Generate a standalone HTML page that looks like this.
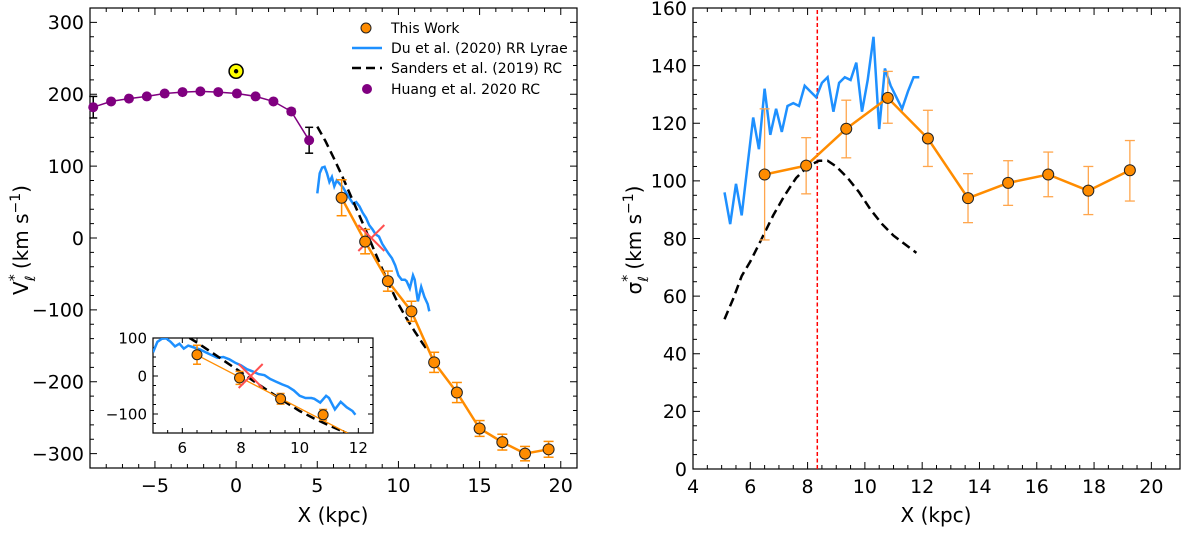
<!DOCTYPE html>
<html><head><meta charset="utf-8"><style>
html,body{margin:0;padding:0;background:#fff}
svg{display:block;font-family:"DejaVu Sans","Liberation Sans",sans-serif}
</style></head><body>
<svg id="fig" width="1200" height="534" viewBox="0 0 1200 534" xmlns="http://www.w3.org/2000/svg"></svg>
<script>
// ---- data: left panel (V_l*) ----
const huangX = [-8.8,-7.7,-6.6,-5.5,-4.4,-3.3,-2.2,-1.1,0.05,1.2,2.3,3.4,4.5];
const huangV = [182,190,194,197,201,203,204,203,201,197,190,176,136];
const huangErr = [15,0,0,0,0,0,0,0,0,0,0,4,18];
const workX = [6.5,7.95,9.35,10.8,12.2,13.6,15.0,16.4,17.8,19.25];
const workV = [56,-5,-60,-102,-173,-215,-265,-284,-300,-294];
const workVErr = [25,17,14,14,14,14,11,11,10,11];
const duX = [5.0,5.15,5.3,5.45,5.6,5.75,5.9,6.05,6.2,6.4,6.6,6.8,7.0,7.2,7.4,7.6,7.8,8.0,8.2,8.4,8.6,8.8,9.0,9.2,9.4,9.6,9.8,10.0,10.2,10.4,10.5,10.7,10.9,11.0,11.2,11.4,11.6,11.8,11.9];
const duV = [62,90,98,99,90,78,85,72,80,75,70,62,55,48,50,44,35,28,18,12,5,2,-8,-15,-22,-28,-38,-52,-58,-58,-60,-70,-52,-58,-88,-68,-82,-92,-102];
const sandX = [5.0,5.5,6.0,6.5,7.0,7.5,8.0,8.5,9.0,9.5,10.0,10.5,11.0,11.5,11.85];
const sandV = [155,135,112,88,62,36,10,-17,-43,-68,-92,-112,-130,-147,-158];
const sunX = [0]; const sunV = [232];
const fitX = [6.5,11.75]; const fitV = [55,-155];
// ---- data: right panel (sigma_l*) ----
const workS = [102.2,105.3,118.1,128.8,114.7,94.0,99.3,102.2,96.6,103.7];
const workSLo = [79.5,95.5,108,120,105,85.5,91.5,94.5,88.3,93];
const workSHi = [125,115,128,138,124.5,102.5,107,110,105,114];
const duSX = [5.1,5.3,5.5,5.7,5.9,6.1,6.3,6.5,6.7,6.9,7.1,7.3,7.5,7.7,7.9,8.1,8.3,8.5,8.7,8.9,9.1,9.3,9.5,9.7,9.9,10.1,10.3,10.5,10.7,10.9,11.1,11.3,11.5,11.7,11.9];
const duS = [96,85,99,88,105,122,111,132,116,125,117,126,127,126,133,131,129,134,136,124,134,136,135,141,124,135,150,118,139,133,129,125,131,136,136];
const sandSX = [5.1,5.4,5.7,6.0,6.4,6.8,7.2,7.6,8.0,8.4,8.7,9.0,9.4,9.8,10.2,10.6,11.0,11.4,11.8];
const sandS = [52,59,67,72,80,88,95,101,105,107,107,105,101,96,90,85,81,78,75];
const sunLineX = [8.34];

const NS="http://www.w3.org/2000/svg";
const svg=document.getElementById('fig');
function el(tag,attrs,parent){const e=document.createElementNS(NS,tag);for(const k in attrs)e.setAttribute(k,attrs[k]);(parent||svg).appendChild(e);return e;}
function axis(x0,x1,y0,y1,xmin,xmax,ymin,ymax){return {sx:v=>x0+(v-xmin)/(xmax-xmin)*(x1-x0),sy:v=>y1-(v-ymin)/(ymax-ymin)*(y1-y0),x0,x1,y0,y1,xmin,xmax,ymin,ymax};}
function frame(a,name,xmaj,xmin_,ymaj,ymin_,fs,maj,mn,fmt){
  const g=el('g',{});
  
  
  el('rect',{x:a.x0,y:a.y0,width:a.x1-a.x0,height:a.y1-a.y0,fill:'none',stroke:'#000','stroke-width':1.2},g);
  const eps=1e-6;
  for(let v=Math.ceil(a.xmin/xmin_-eps)*xmin_;v<=a.xmax+eps;v+=xmin_){
    const isM=Math.abs(v/xmaj-Math.round(v/xmaj))<1e-6;const L=isM?maj:mn;const x=a.sx(v);
    el('line',{x1:x,x2:x,y1:a.y1,y2:a.y1-L,stroke:'#000','stroke-width':1},g);
    el('line',{x1:x,x2:x,y1:a.y0,y2:a.y0+L,stroke:'#000','stroke-width':1},g);
    if(isM){const t=el('text',{x:x,y:a.y1+fs+5,'font-size':fs,'text-anchor':'middle',fill:'#000'},g);t.textContent=fmt(Math.round(v));
      
      }
  }
  for(let v=Math.ceil(a.ymin/ymin_-eps)*ymin_;v<=a.ymax+eps;v+=ymin_){
    const isM=Math.abs(v/ymaj-Math.round(v/ymaj))<1e-6;const L=isM?maj:mn;const y=a.sy(v);
    el('line',{x1:a.x0,x2:a.x0+L,y1:y,y2:y,stroke:'#000','stroke-width':1},g);
    el('line',{x1:a.x1,x2:a.x1-L,y1:y,y2:y,stroke:'#000','stroke-width':1},g);
    if(isM){const t=el('text',{x:a.x0-6,y:y+fs*0.36,'font-size':fs,'text-anchor':'end',fill:'#000'},g);t.textContent=fmt(Math.round(v));
      
      }
  }
}
const fmt=v=>v<0?'\u2212'+(-v):''+v;
function poly(a,xs,ys,attrs,name){const p=xs.map((x,i)=>a.sx(x).toFixed(1)+','+a.sy(ys[i]).toFixed(1)).join(' ');const e=el('polyline',Object.assign({points:p,fill:'none'},attrs));
  
  return e;}
function errs(a,xs,lo,hi,color,w,cap,name){xs.forEach((x,i)=>{if(hi[i]===lo[i])return;const X=a.sx(x),Y1=a.sy(lo[i]),Y2=a.sy(hi[i]);
  const g=el('g',{stroke:color,'stroke-width':w});
  
  
  el('line',{x1:X,x2:X,y1:Y1,y2:Y2},g);el('line',{x1:X-cap,x2:X+cap,y1:Y1,y2:Y1},g);el('line',{x1:X-cap,x2:X+cap,y1:Y2,y2:Y2},g);});}
function dots(a,xs,ys,r,fill,stroke,name){xs.forEach((x,i)=>{const c=el('circle',{cx:a.sx(x),cy:a.sy(ys[i]),r:r,fill:fill,stroke:stroke,'stroke-width':stroke=='none'?0:1});
  
  });}
function cross(a,x,y,s,name){const X=a.sx(x),Y=a.sy(y);const g=el('g',{stroke:'#ff5050','stroke-width':2});
  
  
  el('line',{x1:X-s,y1:Y-s,x2:X+s,y2:Y+s},g);el('line',{x1:X-s,y1:Y+s,x2:X+s,y2:Y-s},g);}
const OR='#ff8c00', BL='#1e90ff', PU='#800080';

// ===== LEFT PANEL =====
const A=axis(90,577,8,468,-9,21,-320,320);
frame(A,'left',5,1,100,20,19,7,4,fmt);
const lo1=huangV.map((v,i)=>v-huangErr[i]), hi1=huangV.map((v,i)=>v+huangErr[i]);
errs(A,huangX,lo1,hi1,'#000',1.5,4,'huang-error-bar');
poly(A,huangX,huangV,{stroke:PU,'stroke-width':1.5},'huang-line');
dots(A,huangX,huangV,5,PU,'none','huang-point');
const sg=el('g',{});


el('circle',{cx:A.sx(sunX[0]),cy:A.sy(sunV[0]),r:7,fill:'#ffff00',stroke:'#000','stroke-width':1.5},sg);
el('circle',{cx:A.sx(sunX[0]),cy:A.sy(sunV[0]),r:2.2,fill:'#000'},sg);
poly(A,duX,duV,{stroke:BL,'stroke-width':2.5},'du-line');
poly(A,sandX,sandV,{stroke:'#000','stroke-width':2.5,'stroke-dasharray':'9,5'},'sanders-line');
errs(A,workX,workV.map((v,i)=>v-workVErr[i]),workV.map((v,i)=>v+workVErr[i]),OR,1.5,5,'work-error-bar');
poly(A,workX,workV,{stroke:OR,'stroke-width':2.5},'work-line');
cross(A,8.33,0,13,'sun-position-cross');
dots(A,workX,workV,5.5,OR,'#222','work-point');
let t=el('text',{x:333,y:522,'font-size':20,'text-anchor':'middle'});t.textContent='X (kpc)';

t=el('text',{transform:'translate(28,240) rotate(-90)','font-size':20,'text-anchor':'middle'});
t.innerHTML='V<tspan font-size="14" dy="-9">*</tspan><tspan font-size="14" dx="-7" dy="16">ℓ</tspan><tspan dy="-7">  (km s</tspan><tspan font-size="14" dy="-8">−1</tspan><tspan dy="8">)</tspan>';

const lg=el('g',{'font-size':14});


el('circle',{cx:366,cy:28,r:5,fill:OR,stroke:'#222','stroke-width':1},lg);
el('line',{x1:352,x2:382,y1:48,y2:48,stroke:BL,'stroke-width':2.5},lg);
el('line',{x1:352,x2:382,y1:68,y2:68,stroke:'#000','stroke-width':2.5,'stroke-dasharray':'9,5'},lg);
el('circle',{cx:367,cy:89,r:5,fill:PU},lg);
[['This Work',33],['Du et al. (2020) RR Lyrae',53],['Sanders et al. (2019) RC',73],['Huang et al. 2020 RC',94]].forEach(([s,y])=>{const tx=el('text',{x:391,y:y},lg);tx.textContent=s;
  });
// inset
const I=axis(153,373,338,433,5,12.5,-150,100);
el('rect',{x:150,y:335,width:226,height:100,fill:'#fff'});
const cp=el('clipPath',{id:'ic'});el('rect',{x:153,y:338,width:220,height:95},cp);
frame(I,'inset',2,0.5,100,25,15,5,3,fmt);
const ig2=el('g',{'clip-path':'url(#ic)'});


function intoInset(f){const before=svg.childNodes.length;f();while(svg.childNodes.length>before){ig2.appendChild(svg.childNodes[before]);}}
intoInset(()=>{
  poly(I,duX,duV,{stroke:BL,'stroke-width':2.5},'inset-du-line');
  poly(I,sandX,sandV,{stroke:'#000','stroke-width':2.5,'stroke-dasharray':'9,5'},'inset-sanders-line');
  poly(I,fitX,fitV,{stroke:OR,'stroke-width':1.3},'inset-fit-line');
  errs(I,workX,workV.map((v,i)=>v-workVErr[i]),workV.map((v,i)=>v+workVErr[i]),OR,1.5,4,'inset-error-bar');
  cross(I,8.33,0,12,'inset-cross');
  dots(I,workX,workV,5,OR,'#222','inset-point');
});
svg.appendChild(ig2);

// ===== RIGHT PANEL =====
const B=axis(693,1180,8,469,4,21,0,160);
frame(B,'right',2,0.5,20,5,19,7,4,fmt);
poly(B,[sunLineX[0],sunLineX[0]],[0,160],{stroke:'#ff0000','stroke-width':1.5,'stroke-dasharray':'4,2.5'},'sun-radius-line');
poly(B,duSX,duS,{stroke:BL,'stroke-width':2.5},'du-sigma-line');
poly(B,sandSX,sandS,{stroke:'#000','stroke-width':2.5,'stroke-dasharray':'9,5'},'sanders-sigma-line');
errs(B,workX,workSLo,workSHi,'#ffa64d',1.3,5,'work-sigma-error-bar');
poly(B,workX,workS,{stroke:OR,'stroke-width':2.5},'work-sigma-line');
dots(B,workX,workS,5.5,OR,'#222','work-sigma-point');
t=el('text',{x:936,y:522,'font-size':20,'text-anchor':'middle'});t.textContent='X (kpc)';

t=el('text',{transform:'translate(641,240) rotate(-90)','font-size':20,'text-anchor':'middle'});
t.innerHTML='σ<tspan font-size="14" dy="-9">*</tspan><tspan font-size="14" dx="-7" dy="16">ℓ</tspan><tspan dy="-7">  (km s</tspan><tspan font-size="14" dy="-8">−1</tspan><tspan dy="8">)</tspan>';

</script>
</body></html>
